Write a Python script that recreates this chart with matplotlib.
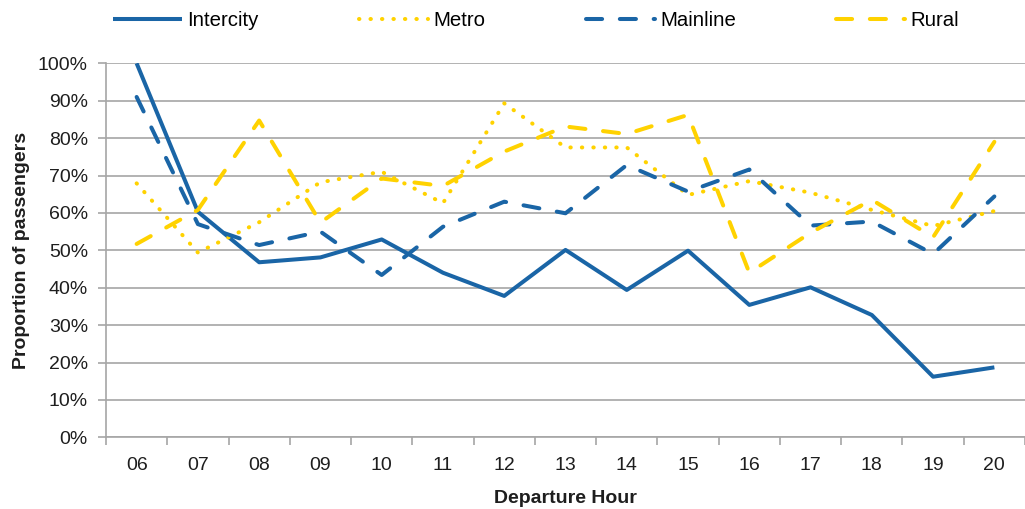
import numpy as np
import matplotlib
matplotlib.use("Agg")
import matplotlib.pyplot as plt

hours = ["06", "07", "08", "09", "10", "11", "12", "13", "14", "15", "16", "17", "18", "19", "20"]

intercity = [100, 60.3, 46.8, 48.1, 52.9, 44.0, 37.8, 50.1, 39.4, 49.9, 35.4, 40.1, 32.7, 16.2, 18.7]
metro = [67.9, 49.4, 57.5, 68.2, 71.0, 62.6, 89.3, 77.5, 77.5, 64.8, 68.5, 65.4, 60.8, 56.5, 60.5]
mainline = [91.0, 57.0, 51.4, 55.0, 43.4, 56.3, 63.0, 59.9, 72.8, 65.7, 71.6, 56.6, 57.7, 49.0, 64.4]
rural = [51.7, 60.8, 84.7, 57.4, 69.2, 67.2, 76.4, 83.1, 81.1, 86.2, 44.0, 54.7, 63.5, 53.5, 79.0]

blue = "#1a65a6"
yellow = "#ffd200"
grey = "#a6a6a6"
txt = "#1e1e1e"

plt.rcParams['font.family'] = ['Liberation Sans', 'DejaVu Sans']

fig = plt.figure(figsize=(10.25, 5.09), dpi=100)
ax = fig.add_axes([106 / 1025, 71.7 / 509, 919 / 1025, 374 / 509])

x = np.arange(len(hours))
lw = 2.9
ax.plot(x, intercity, color=blue, lw=lw, solid_capstyle='butt', label="Intercity", zorder=3)
ax.plot(x, metro, color=yellow, lw=lw, linestyle=(0, (0.1, 2.75)),
        dash_capstyle='round', label="Metro", zorder=3)
ax.plot(x, mainline, color=blue, lw=lw, linestyle=(0, (4.0, 4.4)),
        dash_capstyle='round', label="Mainline", zorder=3)
ax.plot(x, rural, color=yellow, lw=lw, linestyle=(0, (4.0, 4.4)),
        dash_capstyle='round', label="Rural", zorder=3)

ax.set_xlim(-0.5, len(hours) - 0.5)
ax.set_ylim(0, 100)

ax.set_yticks(np.arange(0, 101, 10))
ax.set_yticklabels([f"{v}%" for v in range(0, 101, 10)])
ax.yaxis.grid(True, color=grey, lw=1.2)
ax.set_axisbelow(True)

ax.set_xticks(x)
ax.set_xticklabels(hours)
ax.set_xticks(np.arange(-0.5, len(hours)), minor=True)
ax.tick_params(axis='x', which='major', length=0, pad=14, labelsize=14, colors=txt)
ax.tick_params(axis='x', which='minor', length=6, width=1.2, color=grey)
ax.tick_params(axis='y', length=6, width=1.2, color=grey, pad=7, labelsize=14, labelcolor=txt)

for s in ['top', 'right']:
    ax.spines[s].set_visible(False)
for s in ['left', 'bottom']:
    ax.spines[s].set_color(grey)
    ax.spines[s].set_linewidth(1.2)

ax.set_xlabel("Departure Hour", fontsize=14, fontweight='bold', color=txt, labelpad=12)
ax.set_ylabel("Proportion of passengers", fontsize=14, fontweight='bold', color=txt, labelpad=6)

fig.legend(loc='upper center', bbox_to_anchor=(0.523, 1.015), ncol=4, frameon=False,
           fontsize=14.7, handlelength=3.4, handletextpad=0.25, columnspacing=4.9)

fig.savefig("out.png", dpi=100)
